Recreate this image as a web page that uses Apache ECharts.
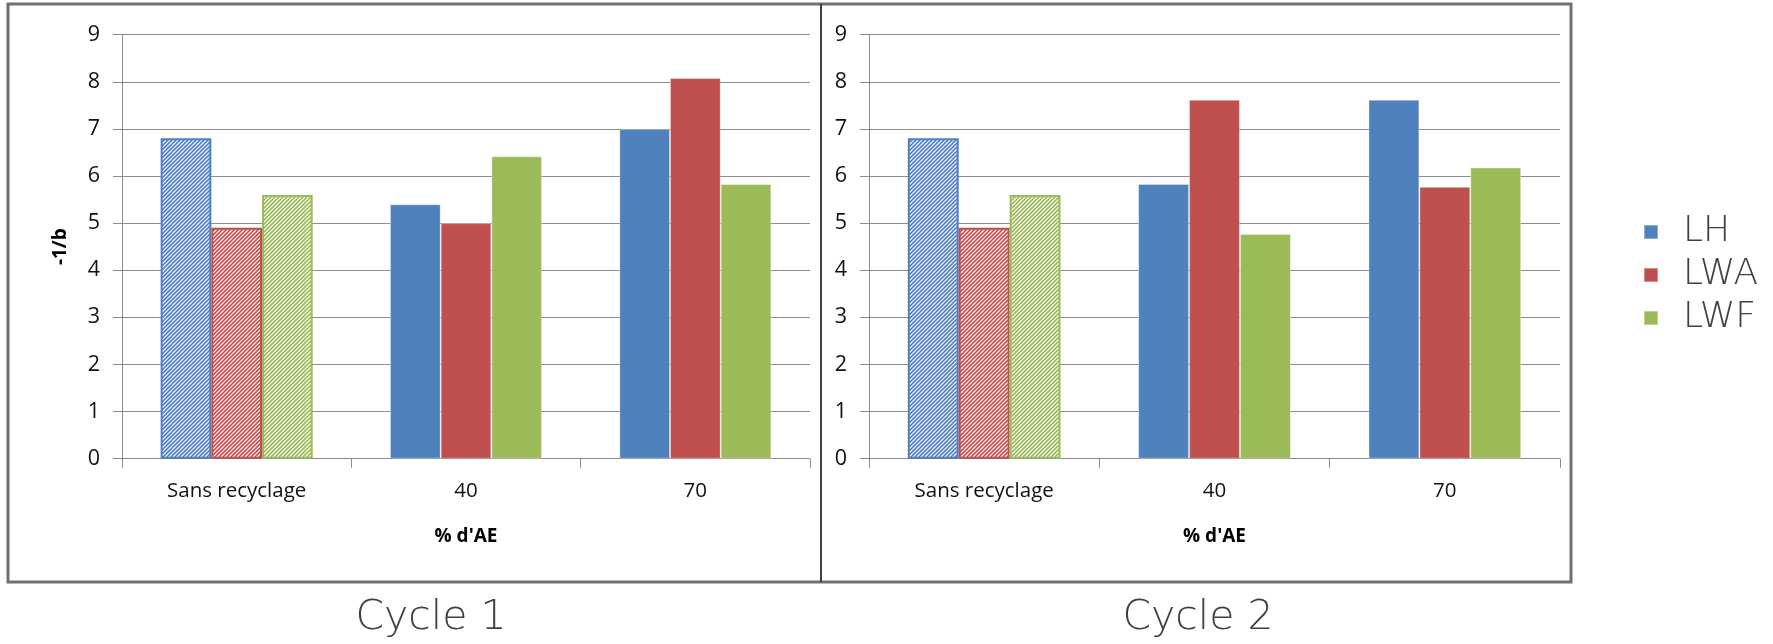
<!DOCTYPE html>
<html>
<head>
<meta charset="utf-8">
<script src="https://cdn.jsdelivr.net/npm/echarts@6/dist/echarts.min.js"></script>
<style>
  html, body { margin: 0; padding: 0; background: #fff; }
  #chart { width: 1773px; height: 644px; }
</style>
</head>
<body>
<div id="chart"></div>
<script>
// Categories on the x axis (% d'AE) and y axis ticks
const categories = ['Sans recyclage', '40', '70'];
const yTicks = [0, 1, 2, 3, 4, 5, 6, 7, 8, 9];
const seriesNames = ['LH', 'LWA', 'LWF'];
const seriesColors = ['#4F81BD', '#C0504D', '#9BBB59'];

// -1/b values, cycle 1
const cycle1LH  = [6.8, 5.4, 7.0];
const cycle1LWA = [4.9, 5.0, 8.08];
const cycle1LWF = [5.6, 6.42, 5.83];

// -1/b values, cycle 2
const cycle2LH  = [6.8, 5.83, 7.62];
const cycle2LWA = [4.9, 7.62, 5.77];
const cycle2LWF = [5.6, 4.77, 6.18];

const panelTitles = ['Cycle 1', 'Cycle 2'];

// Diagonal hatch tile used for the "Sans recyclage" reference bars
function hatch(color) {
  const n = 8;
  const c = document.createElement('canvas');
  c.width = n; c.height = n;
  const g = c.getContext('2d');
  g.fillStyle = '#ffffff';
  g.fillRect(0, 0, n, n);
  g.strokeStyle = color;
  g.lineWidth = 1.6;
  g.lineCap = 'square';
  for (let x = -n; x <= 2 * n; x += 4) {
    g.beginPath();
    g.moveTo(x, n);
    g.lineTo(x + n, 0);
    g.stroke();
  }
  return { image: c, repeat: 'repeat' };
}

function buildData(values, color) {
  return values.map((v, i) => i === 0
    ? { value: v, itemStyle: { color: hatch(color), borderColor: color, borderWidth: 2 } }
    : v);
}

const panels = [
  [cycle1LH, cycle1LWA, cycle1LWF],
  [cycle2LH, cycle2LWA, cycle2LWF]
];

const labelFont = 'Open Sans';
const axisGray = '#8c8c8c';

const grids = [
  { left: 122, right: 1773 - 810, top: 34.7, bottom: 644 - 458.7 },
  { left: 869, right: 1773 - 1560, top: 34.7, bottom: 644 - 458.7 }
];

const xAxes = grids.map((g, i) => ({
  type: 'category',
  gridIndex: i,
  data: categories,
  axisLine: { lineStyle: { color: axisGray, width: 1 } },
  axisTick: { show: true, length: 9, lineStyle: { color: axisGray } },
  axisLabel: { color: '#111', fontSize: 20.5, fontFamily: labelFont, margin: 22 },
  name: "% d'AE",
  nameLocation: 'middle',
  nameGap: 68,
  nameTextStyle: { color: '#000', fontSize: 19, fontWeight: 'bold', fontFamily: labelFont }
}));

const yAxes = grids.map((g, i) => ({
  type: 'value',
  gridIndex: i,
  min: yTicks[0],
  max: yTicks[yTicks.length - 1],
  interval: 1,
  axisLine: { show: true, lineStyle: { color: axisGray, width: 1 } },
  axisTick: { show: true, length: 9, lineStyle: { color: axisGray } },
  splitLine: { lineStyle: { color: axisGray, width: 1.2 } },
  axisLabel: { color: '#111', fontSize: 21.5, fontFamily: labelFont, margin: 22 },
  name: i === 0 ? '-1/b' : '',
  nameLocation: 'middle',
  nameRotate: 90,
  nameGap: 52,
  nameTextStyle: { color: '#000', fontSize: 19, fontWeight: 'bold', fontFamily: labelFont }
}));

const series = [];
panels.forEach((panel, p) => {
  panel.forEach((vals, s) => {
    series.push({
      type: 'bar',
      name: seriesNames[s],
      xAxisIndex: p,
      yAxisIndex: p,
      barGap: '0%',
      barCategoryGap: '33.7%',
      itemStyle: { color: seriesColors[s], borderColor: 'rgba(255,255,255,0.35)', borderWidth: 1 },
      data: buildData(vals, seriesColors[s])
    });
  });
});

const chart = echarts.init(document.getElementById('chart'), null, { renderer: 'canvas' });
chart.setOption({
  animation: false,
  backgroundColor: '#ffffff',
  grid: grids,
  xAxis: xAxes,
  yAxis: yAxes,
  series: series,
  legend: {
    data: seriesNames,
    orient: 'vertical',
    left: 1643,
    top: 212,
    padding: 0,
    itemWidth: 14,
    itemHeight: 14,
    itemGap: 3,
    icon: 'rect',
    textStyle: { color: '#404040', fontSize: 36, lineHeight: 40, fontFamily: 'DejaVu Sans', fontWeight: 200, padding: [0, 0, 0, 20] }
  },
  title: [
    { text: panelTitles[0], left: 431, top: 598, textAlign: 'center', padding: 0,
      textStyle: { color: '#404040', fontSize: 41, fontWeight: 200, fontFamily: 'DejaVu Sans' } },
    { text: panelTitles[1], left: 1198, top: 598, textAlign: 'center', padding: 0,
      textStyle: { color: '#404040', fontSize: 41, fontWeight: 200, fontFamily: 'DejaVu Sans' } }
  ],
  graphic: [
    { type: 'rect', shape: { x: 8, y: 4, width: 1563, height: 578 }, silent: true,
      style: { fill: null, stroke: '#707070', lineWidth: 3 } },
    { type: 'line', shape: { x1: 821, y1: 4, x2: 821, y2: 582 }, silent: true,
      style: { stroke: '#404040', lineWidth: 2 } }
  ]
});
</script>
</body>
</html>
